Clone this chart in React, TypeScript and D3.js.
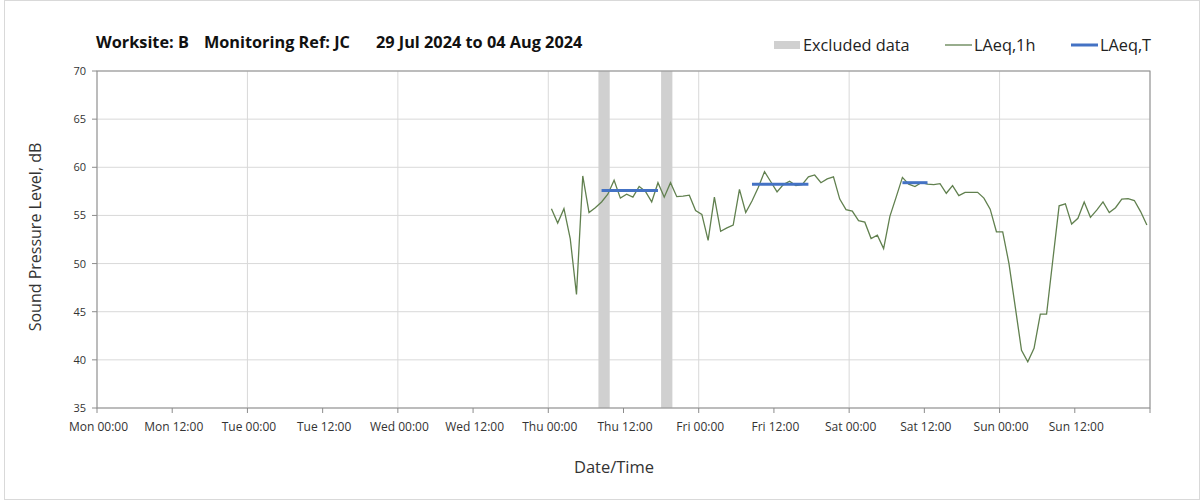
import React from "react";
import * as d3 from "d3";

const W = 1203;
const H = 504;

// Hours from Mon 00:00
const tickHours = [0, 12, 24, 36, 48, 60, 72, 84, 96, 108, 120, 132, 144, 156, 168];
const tickLabels = [
  "Mon 00:00", "Mon 12:00", "Tue 00:00", "Tue 12:00", "Wed 00:00", "Wed 12:00",
  "Thu 00:00", "Thu 12:00", "Fri 00:00", "Fri 12:00", "Sat 00:00", "Sat 12:00",
  "Sun 00:00", "Sun 12:00",
];
const yTicks = [35, 40, 45, 50, 55, 60, 65, 70];

// LAeq,1h hourly values, first at Thu 00:30
const firstHour = 72.5;
const laeq1h = [
  55.7, 54.2, 55.7, 52.6, 46.8, 59.1, 55.3, 55.8, 56.4, 57.2, 58.65, 56.8,
  57.2, 56.9, 58.0, 57.5, 56.4, 58.4, 56.9, 58.4, 56.95, 57.0, 57.1, 55.5,
  55.1, 52.4, 56.9, 53.35, 53.7, 54.0, 57.7, 55.3, 56.5, 57.9, 59.55, 58.5,
  57.45, 58.2, 58.55, 58.1, 58.2, 59.0, 59.2, 58.4, 58.8, 59.0, 56.7, 55.6,
  55.45, 54.45, 54.3, 52.6, 52.95, 51.55, 54.9, 56.9, 58.95, 58.25, 58.0, 58.4,
  58.25, 58.2, 58.3, 57.3, 58.1, 57.05, 57.4, 57.4, 57.4, 56.8, 55.65, 53.3,
  53.3, 50.0, 45.5, 41.0, 39.8, 41.2, 44.75, 44.75, 50.4, 56.0, 56.2, 54.1,
  54.7, 56.4, 54.8, 55.55, 56.4, 55.3, 55.8, 56.7, 56.75, 56.55, 55.4, 54.0,
];

// LAeq,T periods
const laeqTStart = [80.5, 104.5, 128.5];
const laeqTEnd = [89.5, 113.5, 132.5];
const laeqTValue = [57.6, 58.25, 58.4];

// Excluded data periods
const exclStart = [80, 90];
const exclEnd = [81.8, 91.8];

const FONT = "'Open Sans', 'DejaVu Sans', sans-serif";

export default function App() {
  const x = d3.scaleLinear().domain([0, 168]).range([97, 1150]);
  const y = d3.scaleLinear().domain([35, 70]).range([408, 71]);

  const pts: [number, number][] = laeq1h.map((v, i) => [firstHour + i, v]);
  const line = d3
    .line<[number, number]>()
    .x((d) => x(d[0]))
    .y((d) => y(d[1]));

  const gridColor = "#d9d9d9";
  const axisColor = "#8c8c8c";
  const lineGreen = "#61804f";

  return (
    <svg
      width={W}
      height={H}
      style={{ position: "absolute", left: 0, top: 0, background: "#fff" }}
      fontFamily={FONT}
    >
      <rect x={0} y={0} width={W} height={H} fill="#fff" />
      <rect x={4.5} y={0.5} width={1195} height={499} fill="none" stroke="#d9d9d9" />

      {/* horizontal grid */}
      {yTicks.map((t) => (
        <line key={"hg" + t} x1={x(0)} x2={x(168)} y1={y(t)} y2={y(t)} stroke={gridColor} strokeWidth={1} />
      ))}
      {/* vertical grid at days */}
      {tickHours.filter((h) => h % 24 === 0).map((h) => (
        <line key={"vg" + h} x1={x(h)} x2={x(h)} y1={y(70)} y2={y(35)} stroke={gridColor} strokeWidth={1} />
      ))}

      {/* excluded data */}
      {exclStart.map((s, i) => (
        <rect key={"ex" + i} x={x(s)} y={y(70)} width={x(exclEnd[i]) - x(s)} height={y(35) - y(70)} fill="#d0d0d0" />
      ))}

      {/* plot border */}
      <rect x={x(0)} y={y(70)} width={x(168) - x(0)} height={y(35) - y(70)} fill="none" stroke={axisColor} strokeWidth={1} />

      {/* x ticks */}
      {tickHours.map((h) => (
        <line key={"xt" + h} x1={x(h)} x2={x(h)} y1={y(35)} y2={y(35) + 5} stroke={axisColor} />
      ))}
      {tickLabels.map((l, i) => (
        <text key={"xl" + i} x={x(tickHours[i]) + 1.5} y={431} fontSize={12} textAnchor="middle" fill="#333">
          {l}
        </text>
      ))}

      {/* y ticks */}
      {yTicks.map((t) => (
        <g key={"yt" + t}>
          <line x1={x(0) - 5} x2={x(0)} y1={y(t)} y2={y(t)} stroke={axisColor} />
          <text x={86} y={y(t) + 4} fontSize={11} textAnchor="end" fill="#333">
            {t}
          </text>
        </g>
      ))}

      {/* LAeq,1h */}
      <path d={line(pts) || ""} fill="none" stroke={lineGreen} strokeWidth={1.3} />

      {/* LAeq,T */}
      {laeqTStart.map((s, i) => (
        <line
          key={"lt" + i}
          x1={x(s)}
          x2={x(laeqTEnd[i])}
          y1={y(laeqTValue[i])}
          y2={y(laeqTValue[i])}
          stroke="#4472c4"
          strokeWidth={3}
        />
      ))}

      {/* title */}
      <text x={96} y={48} fontSize={16.3} fontWeight="bold" fill="#111">
        <tspan>Worksite: B</tspan>
        <tspan dx={15}>Monitoring Ref: JC</tspan>
        <tspan dx={26}>29 Jul 2024 to 04 Aug 2024</tspan>
      </text>

      {/* legend */}
      <rect x={774} y={41} width={26} height={8} fill="#d0d0d0" />
      <text x={803} y={51} fontSize={16.3} fill="#222">Excluded data</text>
      <line x1={945} x2={972} y1={45} y2={45} stroke={lineGreen} strokeWidth={1.3} />
      <text x={974} y={51} fontSize={16.3} fill="#222">LAeq,1h</text>
      <line x1={1071} x2={1098} y1={45} y2={45} stroke="#4472c4" strokeWidth={3} />
      <text x={1100} y={51} fontSize={16.3} fill="#222">LAeq,T</text>

      {/* axis titles */}
      <text
        transform={`translate(41, 237) rotate(-90)`}
        fontSize={16}
        textAnchor="middle"
        fill="#333"
      >
        Sound Pressure Level, dB
      </text>
      <text x={614} y={473} fontSize={16.5} textAnchor="middle" fill="#333">
        Date/Time
      </text>
    </svg>
  );
}
